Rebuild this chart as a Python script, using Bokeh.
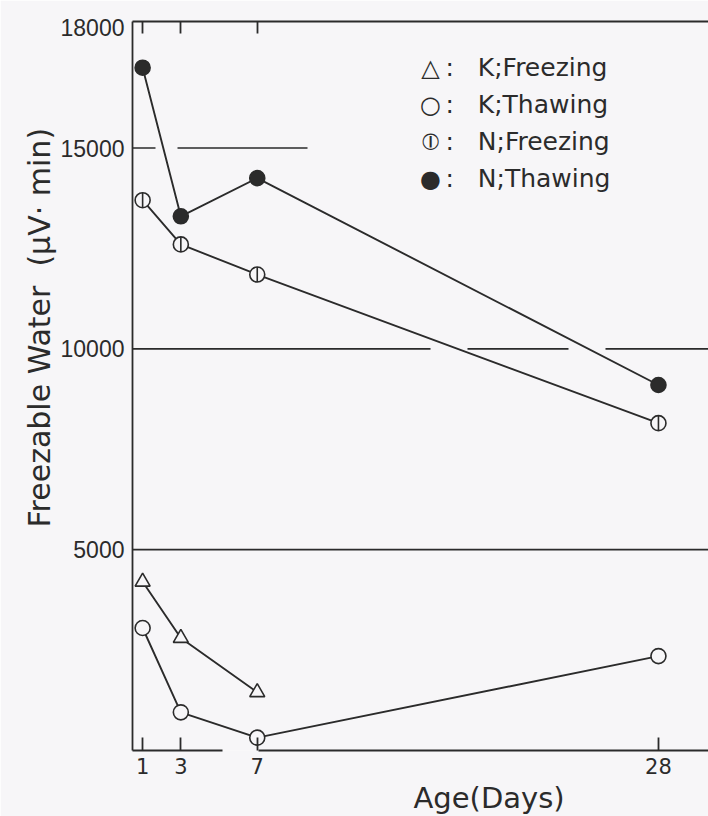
import math
from bokeh.plotting import figure
from bokeh.models import Range1d, LinearAxis, FixedTicker, Span, Title, Label
from bokeh.embed import file_html
from bokeh.resources import INLINE

# ---- data ----
days = [1, 3, 7, 28]
k_freeze_days = [1, 3, 7]
k_freezing = [4200, 2800, 1450]          # triangles
k_thawing = [3050, 950, 320, 2350]       # open circles
n_freezing = [13700, 12600, 11850, 8150]  # half circles
n_thawing = [17000, 13300, 14250, 9100]   # filled circles

x_ticks = [1, 3, 7, 28]
top_ticks = [1, 3, 7]
y_ticks = [5000, 10000, 15000, 18000]
grid_levels = [5000, 10000, 15000]
grid_dashes = ["solid", "298 37 101 37 1000", "23 22 130 1000"]

legend_symbols = ["\u25b3", "\u25cb", "\u29b6", "\u25cf"]
legend_names = ["K;Freezing", "K;Thawing", "N;Freezing", "N;Thawing"]

INK = "#2b2b2b"
BG = "#f7f6f8"

p = figure(frame_width=576, frame_height=729,
           x_range=Range1d(0.47, 30.62), y_range=Range1d(0, 18150),
           min_border_left=132, min_border_right=0, min_border_top=21,
           min_border_bottom=0,
           output_backend="svg", toolbar_location=None,
           background_fill_color=BG, border_fill_color=BG,
           outline_line_color=None)
p.grid.visible = False

# reference lines
for lvl, dash in zip(grid_levels, grid_dashes):
    p.add_layout(Span(location=lvl, dimension="width", line_color=INK,
                      line_width=1.6, line_dash=dash))

# axes
xa = p.xaxis[0]
xa.ticker = FixedTicker(ticks=x_ticks)
xa.major_tick_in = 13
xa.major_tick_out = 0
xa.minor_tick_line_color = None
xa.axis_line_color = INK
xa.axis_line_width = 1.8
xa.axis_line_dash = "90 36 1000"
xa.major_tick_line_color = INK
xa.major_tick_line_width = 1.8
xa.major_label_text_font = "DejaVu Sans"
xa.major_label_text_font_size = "21px"
xa.major_label_text_color = INK
xa.major_label_standoff = 7

ya = p.yaxis[0]
ya.ticker = FixedTicker(ticks=y_ticks)
ya.major_tick_line_color = None
ya.minor_tick_line_color = None
ya.axis_line_color = INK
ya.axis_line_width = 1.8
ya.major_label_text_font = "Liberation Sans"
ya.major_label_text_font_size = "23px"
ya.major_label_text_color = INK
ya.major_label_standoff = 2

top = LinearAxis(ticker=FixedTicker(ticks=top_ticks), major_tick_in=12,
                 major_tick_out=0, major_label_text_font_size="1px",
                 major_label_text_color=None,
                 major_label_standoff=0, minor_tick_line_color=None,
                 axis_line_color=INK, axis_line_width=1.8,
                 major_tick_line_color=INK, major_tick_line_width=1.8)
p.add_layout(top, "above")

# axis titles
xt = Title(text="Age(Days)", align="left", offset=281, standoff=4,
           text_font="DejaVu Sans", text_font_size="29px",
           text_font_style="normal", text_color=INK)
p.add_layout(xt, "below")
yt = Title(text="Freezable Water\u00a0\u00a0(\u03bcV\u00b7\u00a0min)", align="left",
           offset=223, standoff=2,
           text_font="DejaVu Sans", text_font_size="30px",
           text_font_style="normal", text_color=INK)
p.add_layout(yt, "left")

# series
lw = 1.9
p.line(k_freeze_days, k_freezing, line_color=INK, line_width=lw)
p.line(days, k_thawing, line_color=INK, line_width=lw)
p.line(days, n_freezing, line_color=INK, line_width=lw)
p.line(days, n_thawing, line_color=INK, line_width=lw)

p.scatter(k_freeze_days, k_freezing, marker="triangle", size=15,
          fill_color=BG, line_color=INK, line_width=1.6)
p.scatter(days, k_thawing, marker="circle", size=15,
          fill_color=BG, line_color=INK, line_width=1.6)
p.scatter(days, n_freezing, marker="circle", size=15,
          fill_color=BG, line_color=INK, line_width=1.6)
p.scatter(days, n_freezing, marker="dash", size=15, angle=math.pi / 2,
          line_color=INK, line_width=1.6)
p.scatter(days, n_thawing, marker="circle", size=15,
          fill_color=INK, line_color=INK, line_width=1.6)

# legend (key drawn as text, as in the original)
leg_sym_x, leg_txt_x, leg_top, leg_pitch = 298, 313, 683, 37
sp = "\u00a0\u00a0\u00a0"
for i, (sym, name) in enumerate(zip(legend_symbols, legend_names)):
    yy = leg_top - i * leg_pitch
    p.add_layout(Label(x=leg_sym_x, y=yy, x_units="screen", y_units="screen",
                       text=sym, text_align="center", text_baseline="middle",
                       text_font="DejaVu Sans", text_font_size="24px",
                       text_color=INK))
    p.add_layout(Label(x=leg_txt_x, y=yy, x_units="screen", y_units="screen",
                       text=":" + sp + name, text_align="left",
                       text_baseline="middle",
                       text_font="DejaVu Sans", text_font_size="25px",
                       text_color=INK))

open("out.html", "w").write(file_html(p, INLINE))
